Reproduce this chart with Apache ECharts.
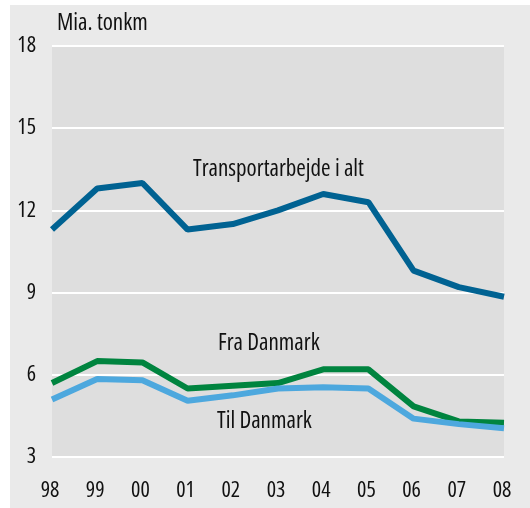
<!DOCTYPE html>
<html>
<head>
<meta charset="utf-8">
<script src="https://cdn.jsdelivr.net/npm/echarts@6/dist/echarts.min.js"></script>
<style>
  html, body { margin: 0; padding: 0; background: #ffffff; }
  #panel { position: absolute; left: 10px; top: 5px; width: 520px; height: 503px; background: #eaeaea; }
  #chart { width: 520px; height: 503px; }
</style>
</head>
<body>
<div id="panel"><div id="chart"></div></div>
<script>
  // år og værdier (mia. tonkm)
  var years = ['98', '99', '00', '01', '02', '03', '04', '05', '06', '07', '08'];
  var totalValues = [11.3, 12.8, 13.0, 11.3, 11.5, 12.0, 12.6, 12.3, 9.8, 9.2, 8.85];
  var fraValues = [5.7, 6.5, 6.45, 5.5, 5.6, 5.7, 6.2, 6.2, 4.85, 4.3, 4.25];
  var tilValues = [5.1, 5.85, 5.8, 5.05, 5.25, 5.5, 5.55, 5.5, 4.4, 4.2, 4.05];
  var yTicks = [3, 6, 9, 12, 15, 18];

  // smal skrift: Open Sans i condensed-bredde
  var family = "'Open Sans', sans-serif";
  var labelFont = 'normal condensed 23px ' + family;

  var chart = echarts.init(document.getElementById('chart'));
  chart.setOption({
    animation: false,
    backgroundColor: 'transparent',
    grid: {
      left: 42, right: 26, top: 41, bottom: 51,
      show: true, backgroundColor: '#dedede', borderWidth: 0
    },
    xAxis: {
      type: 'category',
      boundaryGap: false,
      data: years,
      axisLine: { show: false },
      axisTick: { show: false },
      axisLabel: {
        color: '#111', fontSize: 22, fontStyle: 'normal', fontWeight: 'condensed',
        fontFamily: family, margin: 23, padding: [0, 4, 0, 0]
      }
    },
    yAxis: {
      type: 'value',
      min: yTicks[0],
      max: yTicks[yTicks.length - 1],
      interval: 3,
      axisLine: { show: false },
      axisTick: { show: false },
      axisLabel: {
        color: '#111', fontSize: 22, fontStyle: 'normal', fontWeight: 'condensed',
        fontFamily: family, margin: 16
      },
      splitLine: { lineStyle: { color: '#ffffff', width: 2 } }
    },
    series: [
      {
        name: 'Transportarbejde i alt', type: 'line', data: totalValues,
        symbol: 'none', lineStyle: { color: '#006292', width: 6 }
      },
      {
        name: 'Fra Danmark', type: 'line', data: fraValues,
        symbol: 'none', lineStyle: { color: '#00843f', width: 6 }
      },
      {
        name: 'Til Danmark', type: 'line', data: tilValues,
        symbol: 'none', lineStyle: { color: '#4da8de', width: 6 }
      }
    ],
    graphic: [
      { type: 'text', left: 47, top: 7, style: { text: 'Mia. tonkm', font: labelFont, fill: '#111' } },
      { type: 'text', left: 183, top: 153, style: { text: 'Transportarbejde i alt', font: labelFont, fill: '#111' } },
      { type: 'text', left: 208, top: 327, style: { text: 'Fra Danmark', font: labelFont, fill: '#111' } },
      { type: 'text', left: 207, top: 405, style: { text: 'Til Danmark', font: labelFont, fill: '#111' } }
    ]
  });
</script>
</body>
</html>
